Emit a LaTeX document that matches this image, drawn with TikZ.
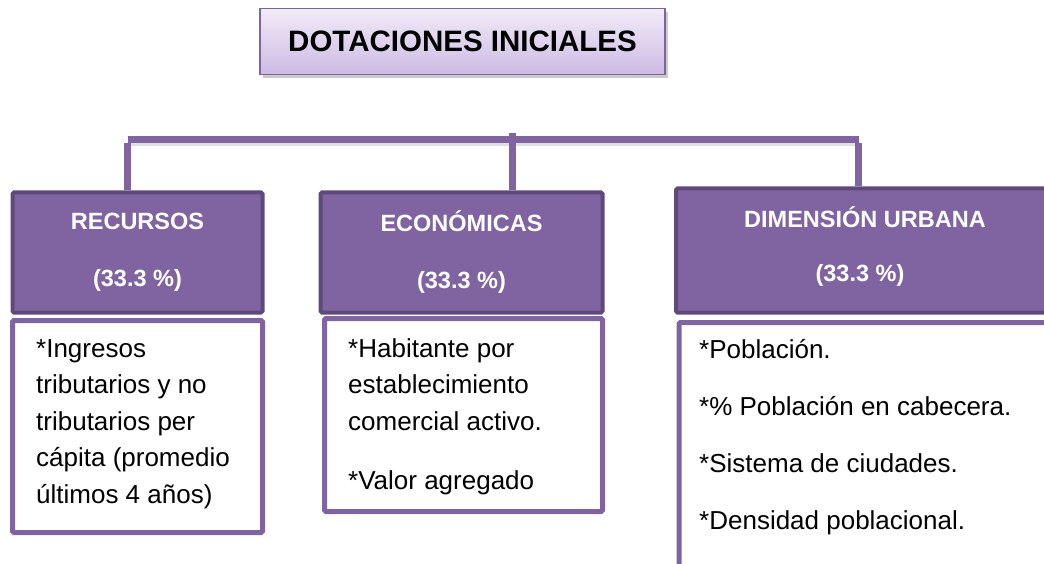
\documentclass[tikz,border=0pt]{standalone}
\usepackage{fontspec}
\setmainfont{Liberation Sans}
\usetikzlibrary{shadows}
\definecolor{accent}{HTML}{8064A2}
\definecolor{accentdark}{HTML}{5F497A}
\definecolor{titletop}{HTML}{F1EBF8}
\definecolor{titlebot}{HTML}{CDBBE3}
\tikzset{
  titlebox/.style={draw=accent, line width=1.5pt, top color=titletop, bottom color=titlebot,
    minimum width=405pt, minimum height=66pt, inner sep=0pt,
    drop shadow={shadow xshift=3pt, shadow yshift=-4pt, opacity=0.35, fill=black!60},
    font=\bfseries\fontsize{29.5}{34}\selectfont},
  headbox/.style={draw=accentdark, line width=4pt, fill=accent, text=white, rounded corners=1.5pt,
    align=center, inner sep=0pt, font=\bfseries\fontsize{23.5}{28}\selectfont},
  headtext/.style={text=white, inner sep=0pt, font=\bfseries\fontsize{23.5}{28}\selectfont},
  bodybox/.style={draw=accent, line width=5pt, fill=white, rounded corners=1.5pt, inner sep=0pt},
  bodytext/.style={anchor=north west, inner sep=0pt, align=left, font=\fontsize{26}{36.5}\selectfont},
  conn/.style={draw=accent, line width=7pt},
  connshadow/.style={draw=black!25, line width=7pt, opacity=0.5}
}
\begin{document}
\begin{tikzpicture}[x=1pt,y=-1pt]
\useasboundingbox (0,0) rectangle (1044,564);
% title
\node[titlebox] (title) at (462.5,41.5) {DOTACIONES INICIALES};
% connector coordinates
\coordinate (hl) at (127.5,140);
\coordinate (hr) at (858.5,140);
\coordinate (hm) at (512,133);
% header boxes
\node[headbox, minimum width=250pt, minimum height=120pt] (h1) at (137.5,252.5)
  {RECURSOS\\[29pt](33.3 \%)};
\node[headbox, minimum width=282pt, minimum height=120pt] (h2) at (461.5,252.5)
  {ECONÓMICAS\\[29pt](33.3 \%)};
\node[headbox, minimum width=380pt, minimum height=124pt, anchor=west] (h3) at (674,250.5) {};
\node[headtext] (h3a) at (865,217) {DIMENSIÓN URBANA};
\node[headtext] (h3b) at (860,275) {(33.3 \%)};
% connector shadows
\draw[connshadow] ([yshift=-3pt]hl) -- ([yshift=-3pt]hr);
% connectors
\draw[conn] (hl) -- (hr);
\draw[conn] (hl |- h1.north) -- ([yshift=-3.5pt]hl);
\draw[conn] (hm) -- (hm |- h2.north);
\draw[conn] (hr |- h3.north) -- ([yshift=-3.5pt]hr);
% body boxes
\node[bodybox, minimum width=250pt, minimum height=212pt] (b1) at (137.5,426.5) {};
\node[bodybox, minimum width=278pt, minimum height=193pt] (b2) at (463.5,415) {};
\node[bodybox, minimum width=400pt, minimum height=300pt, anchor=north west] (b3) at (676.5,320) {};
% body texts
\node[bodytext] (t1) at (36,339) {*Ingresos\\tributarios y no\\tributarios per\\cápita (promedio\\últimos 4 años)};
\node[bodytext] (t2) at (348,338) {*Habitante por\\establecimiento\\comercial activo.\\[23pt]*Valor agregado};
\node[bodytext] (t3) at (699,339) {*Población.\\[20.5pt]*\% Población en cabecera.\\[20.5pt]*Sistema de ciudades.\\[20.5pt]*Densidad poblacional.};
\end{tikzpicture}
\end{document}
